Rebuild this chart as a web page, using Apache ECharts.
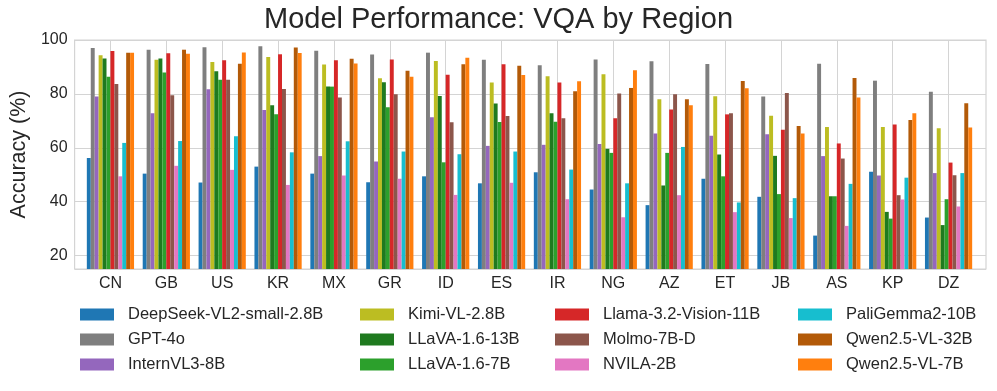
<!DOCTYPE html>
<html>
<head>
<meta charset="utf-8">
<script src="https://cdn.jsdelivr.net/npm/echarts@6/dist/echarts.min.js"></script>
<style>
  html, body { margin: 0; padding: 0; background: #fff; }
  #chart { width: 997px; height: 391px; }
</style>
</head>
<body>
<div id="chart"></div>
<script>
  // regions on the x axis
  const regions = ['CN', 'GB', 'US', 'KR', 'MX', 'GR', 'ID', 'ES', 'IR', 'NG', 'AZ', 'ET', 'JB', 'AS', 'KP', 'DZ']
  const models = ['DeepSeek-VL2-small-2.8B', 'GPT-4o', 'InternVL3-8B', 'Kimi-VL-2.8B', 'LLaVA-1.6-13B', 'LLaVA-1.6-7B',
    'Llama-3.2-Vision-11B', 'Molmo-7B-D', 'NVILA-2B', 'PaliGemma2-10B', 'Qwen2.5-VL-32B', 'Qwen2.5-VL-7B']
  const yTicks = [20, 40, 60, 80, 100]

  // accuracy per model, one value per region (same order as regions)
  const deepseek = [56.2, 50.4, 47.1, 53.0, 50.4, 47.2, 49.4, 46.8, 50.9, 44.5, 38.7, 48.5, 41.8, 27.4, 51.1, 34.1]
  const gpt4o = [97.0, 96.4, 97.3, 97.7, 96.0, 94.6, 95.3, 92.7, 90.6, 92.8, 92.1, 91.1, 79.0, 91.2, 84.9, 80.8]
  const internvl = [79.0, 72.8, 81.7, 74.0, 56.9, 54.9, 71.3, 60.7, 61.1, 61.4, 65.3, 64.5, 65.0, 56.9, 49.7, 50.6]
  const kimi = [94.3, 92.7, 91.8, 93.7, 90.9, 85.8, 92.2, 84.2, 86.5, 87.3, 78.0, 79.1, 71.9, 67.7, 67.7, 67.2]
  const llava13 = [93.1, 93.1, 88.4, 75.8, 82.7, 84.3, 79.2, 76.4, 72.8, 59.6, 46.0, 57.5, 57.0, 42.0, 36.2, 31.3]
  const llava7 = [86.4, 87.9, 85.2, 72.4, 82.7, 75.0, 54.6, 69.6, 69.7, 58.1, 58.1, 49.4, 42.8, 42.0, 33.7, 40.9]
  const llama = [95.9, 95.1, 92.5, 94.7, 92.5, 92.8, 87.1, 91.0, 84.2, 71.0, 74.2, 72.4, 66.7, 61.6, 68.6, 54.5]
  const molmo = [83.7, 79.5, 85.2, 81.8, 78.7, 79.9, 69.5, 71.8, 71.0, 80.1, 79.9, 72.8, 80.3, 56.0, 42.4, 49.8]
  const nvila = [49.4, 53.3, 51.8, 46.2, 49.7, 48.5, 42.5, 47.0, 40.9, 34.2, 42.4, 36.1, 33.9, 31.0, 40.8, 38.2]
  const paligemma = [61.8, 62.5, 64.3, 58.3, 62.4, 58.6, 57.6, 58.6, 51.9, 46.8, 60.3, 39.7, 41.3, 46.6, 48.9, 50.6]
  const qwen32 = [95.3, 96.4, 91.2, 97.2, 93.0, 88.6, 91.0, 90.4, 81.0, 82.2, 78.0, 84.8, 68.1, 85.9, 70.3, 76.5]
  const qwen7 = [95.3, 94.9, 95.4, 95.2, 91.3, 86.4, 93.4, 87.0, 84.7, 88.8, 75.8, 82.1, 65.3, 78.7, 72.8, 67.5]

  const allData = [deepseek, gpt4o, internvl, kimi, llava13, llava7, llama, molmo, nvila, paligemma, qwen32, qwen7]
  const colors = ['#1f77b4', '#7f7f7f', '#9467bd', '#bcbd22', '#1f7a1f', '#2ca02c',
    '#d62728', '#8c564b', '#e377c2', '#17becf', '#b35a08', '#ff7f0e']

  const textColor = '#262626'
  const gridColor = '#d4d4d4'
  const fontFamily = '"Liberation Sans", Arial, sans-serif'

  let chart = echarts.init(document.getElementById('chart'), null, { renderer: 'canvas' })

  // 4 legend columns, 3 rows each
  const legendLefts = [80, 360, 555, 798]
  const legends = legendLefts.map((left, i) => ({
    orient: 'vertical',
    left: left,
    top: 306,
    padding: 0,
    itemWidth: 34,
    itemHeight: 12,
    itemGap: 8,
    icon: 'rect',
    textStyle: { fontSize: 16.5, lineHeight: 17, color: textColor, fontFamily: fontFamily, padding: [0, 0, 0, 9] },
    data: models.slice(i * 3, i * 3 + 3)
  }))

  chart.setOption({
    backgroundColor: '#ffffff',
    animation: false,
    color: colors,
    title: {
      text: 'Model Performance: VQA by Region',
      left: 'center',
      top: 5,
      padding: 0,
      textStyle: { fontSize: 29, fontWeight: 'normal', color: textColor, fontFamily: fontFamily }
    },
    legend: legends,
    // grid 0 holds the bars (inset a little, like matplotlib's x margins),
    // grid 1 is the full frame with the y axis and horizontal grid lines
    grid: [
      { left: 82.5, right: 20.5, top: 40, bottom: 122 },
      { left: 73, right: 11, top: 40, bottom: 122, show: true, borderColor: gridColor, borderWidth: 1.2 }
    ],
    xAxis: [
      {
        type: 'category',
        gridIndex: 0,
        data: regions,
        axisLine: { show: false },
        axisTick: { show: false },
        axisLabel: { fontSize: 16, color: textColor, fontFamily: fontFamily, margin: 7 },
        splitLine: { show: true, alignWithLabel: true, lineStyle: { color: gridColor, width: 1 } }
      },
      { type: 'value', gridIndex: 1, show: false }
    ],
    yAxis: [
      { type: 'value', gridIndex: 0, min: 15, max: 100, show: false },
      {
        type: 'value',
        gridIndex: 1,
        min: 15,
        max: 100,
        splitNumber: 5,
        name: 'Accuracy (%)',
        nameLocation: 'middle',
        nameGap: 40,
        nameTextStyle: { fontSize: 21.5, color: textColor, fontFamily: fontFamily },
        axisLine: { show: false },
        axisTick: { show: false },
        axisLabel: {
          fontSize: 16, color: textColor, fontFamily: fontFamily, margin: 7,
          formatter: v => (yTicks.indexOf(v) >= 0 ? String(v) : '')
        },
        splitLine: { lineStyle: { color: gridColor, width: 1 } }
      }
    ],
    series: models.map((m, i) => ({
      name: m,
      type: 'bar',
      xAxisIndex: 0,
      yAxisIndex: 0,
      data: allData[i],
      barGap: '0%',
      barCategoryGap: '15.5%',
      itemStyle: { color: colors[i] }
    }))
  })
</script>
</body>
</html>
